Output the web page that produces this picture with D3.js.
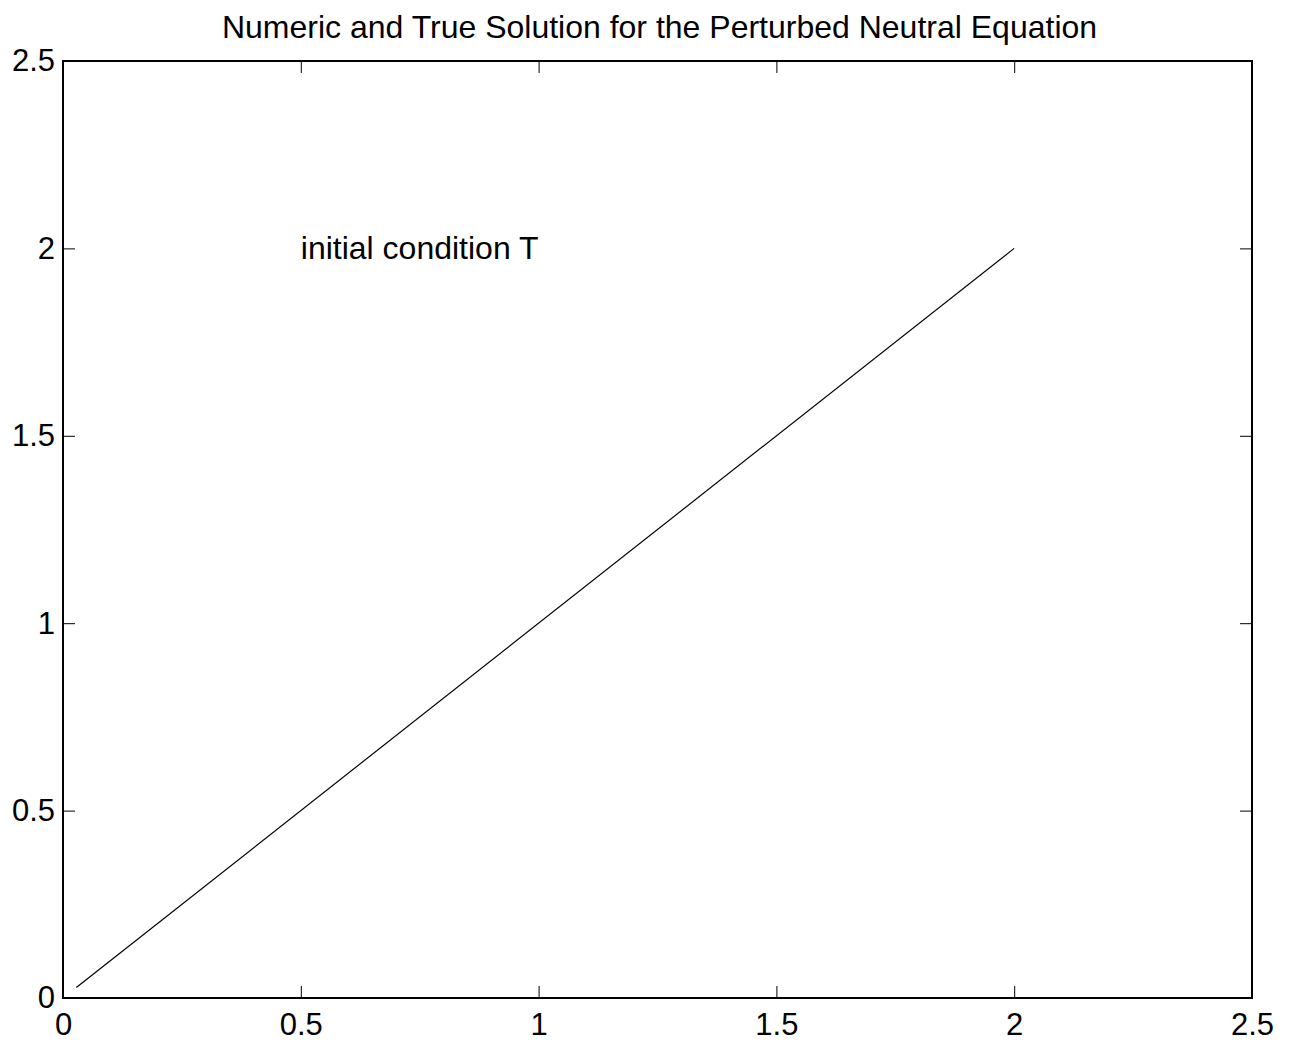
<!DOCTYPE html>
<html>
<head>
<meta charset="utf-8">
<script src="https://cdn.jsdelivr.net/npm/d3@7"></script>
<style>
  body { margin: 0; background: #fff; }
  svg { display: block; font-family: "Liberation Sans", Arial, sans-serif; }
</style>
</head>
<body>
<div class="container"></div>
<script>
// Data
const xTicks = [0, 0.5, 1, 1.5, 2, 2.5];
const yTicks = [0, 0.5, 1, 1.5, 2, 2.5];
const lineX = [0.028, 2];
const lineY = [0.028, 2];
const titleText = 'Numeric and True Solution for the Perturbed Neutral Equation';
const note = { x: 0.5, y: 2, text: 'initial condition T' };

// Constants
const width = 1291;
const height = 1045;
const margin = { left: 63, right: 39, top: 61, bottom: 47 };

const svg = d3
  .select('.container')
  .append('svg')
  .attr('width', width)
  .attr('height', height);

const x = d3.scaleLinear().domain([0, 2.5]).range([margin.left, width - margin.right]);
const y = d3.scaleLinear().domain([0, 2.5]).range([height - margin.bottom, margin.top]);

const tickLen = 12;

// Ticks (inward, on all four sides)
const drawAxis = (axis, transform) => {
  const g = svg.append('g').attr('transform', transform).call(axis);
  g.select('.domain').remove();
  g.selectAll('line').attr('stroke', '#000').attr('stroke-width', 1);
  g.selectAll('text').attr('fill', '#000').style('font-size', '31px').style('font-family', null);
  return g;
};

drawAxis(
  d3.axisBottom(x).tickValues(xTicks).tickFormat(d3.format('')).tickSizeInner(-tickLen).tickPadding(15),
  `translate(0, ${y(0)})`
);
drawAxis(
  d3.axisTop(x).tickValues(xTicks).tickFormat('').tickSizeInner(-tickLen),
  `translate(0, ${y(2.5)})`
);
drawAxis(
  d3.axisLeft(y).tickValues(yTicks).tickFormat(d3.format('')).tickSizeInner(-tickLen).tickPadding(8),
  `translate(${x(0)}, 0)`
);
drawAxis(
  d3.axisRight(y).tickValues(yTicks).tickFormat('').tickSizeInner(-tickLen),
  `translate(${x(2.5)}, 0)`
);

// Frame
svg
  .append('rect')
  .attr('x', x(0))
  .attr('y', y(2.5))
  .attr('width', x(2.5) - x(0))
  .attr('height', y(0) - y(2.5))
  .attr('fill', 'none')
  .attr('stroke', '#000')
  .attr('stroke-width', 2);

// Line
const line = d3
  .line()
  .x((d) => x(d[0]))
  .y((d) => y(d[1]));

svg
  .append('path')
  .datum(d3.zip(lineX, lineY))
  .attr('d', line)
  .attr('fill', 'none')
  .attr('stroke', '#000')
  .attr('stroke-width', 1.2);

// Annotation
svg
  .append('text')
  .attr('x', x(note.x))
  .attr('y', y(note.y) + 11)
  .style('font-size', '32px')
  .text(note.text);

// Title
svg
  .append('text')
  .attr('x', (x(0) + x(2.5)) / 2 + 2)
  .attr('y', 38)
  .attr('text-anchor', 'middle')
  .style('font-size', '32px')
  .text(titleText);
</script>
</body>
</html>
